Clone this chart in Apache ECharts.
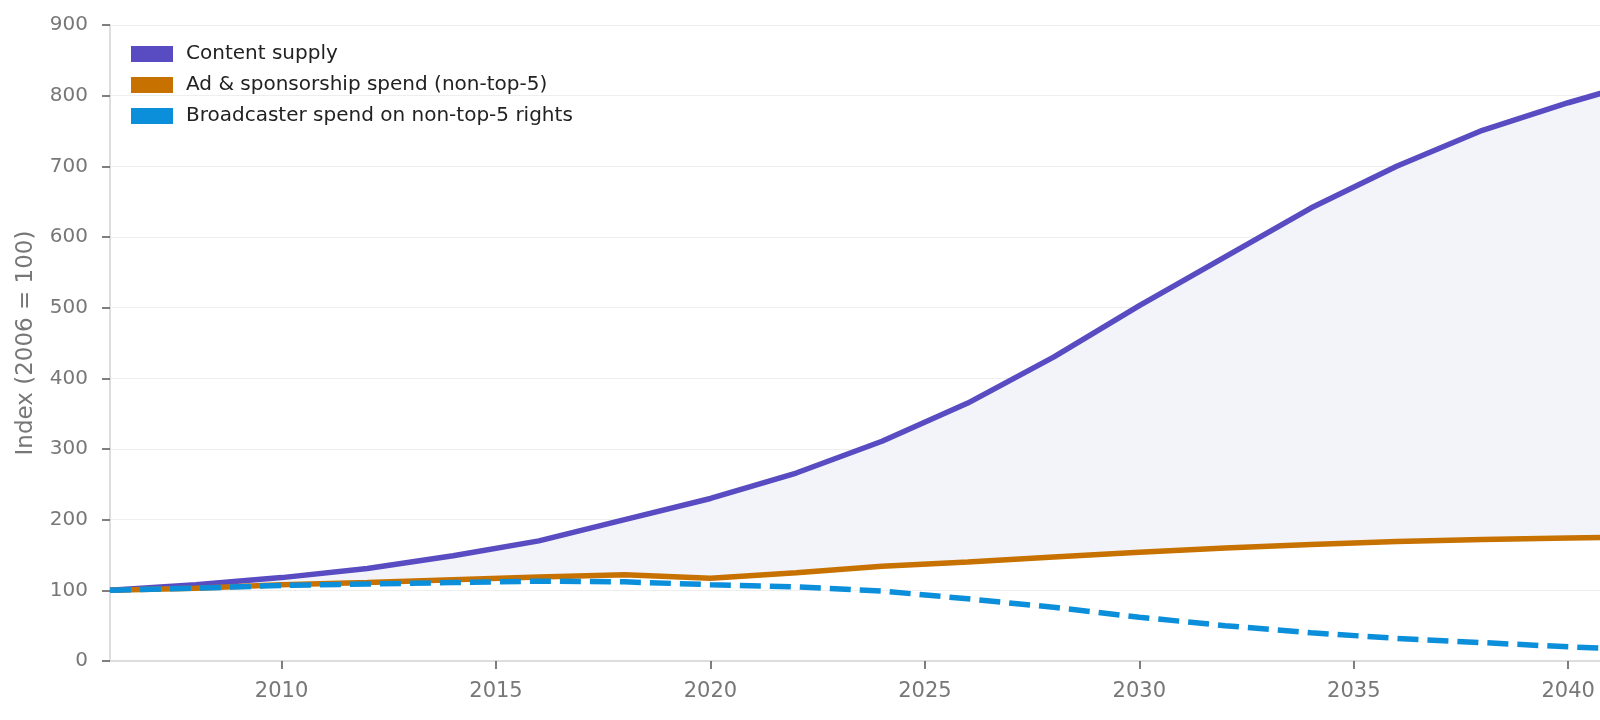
<!DOCTYPE html>
<html>
<head>
<meta charset="utf-8">
<script src="https://cdn.jsdelivr.net/npm/echarts@6/dist/echarts.min.js"></script>
<style>
html,body{margin:0;padding:0;background:#fff;overflow:hidden;width:1600px;height:720px;}
#chart{width:1700px;height:720px;}
</style>
</head>
<body>
<div id="chart"></div>
<script>
const years = [2006,2008,2010,2012,2014,2016,2018,2020,2022,2024,2026,2028,2030,2032,2034,2036,2038,2040,2042];
const contentSupply = [100,108,118,131,149,170,200,230,266,311,365,430,503,572,641,700,751,790,825];
const adSponsorship = [100,103,108,111,115,119,122,117,125,134,140,147,154,160,165,169,172,174,176];
const broadcasterSpend = [100,103,107,109,111,113,112,108,105,99,88,76,62,50,40,32,26,20,15];
const xTickLabels = [2010,2015,2020,2025,2030,2035,2040];
const yTicks = [0,100,200,300,400,500,600,700,800,900];

const pairs = a => years.map((y,i)=>[y,a[i]]);

const font = 'DejaVu Sans';
const chart = echarts.init(document.getElementById('chart'), null, {renderer:'canvas'});
chart.setOption({
  animation:false,
  textStyle:{fontFamily:font},
  grid:{left:110,right:46,top:25,bottom:59,containLabel:false},
  legend:{
    show:true, orient:'vertical', left:126, top:39,
    itemWidth:42, itemHeight:16, itemGap:11,
    textStyle:{fontFamily:font,fontSize:20,color:'#222',padding:[0,0,0,8]},
    data:[
      {name:'Content supply',icon:'rect',itemStyle:{color:'#594cc2'}},
      {name:'Ad & sponsorship spend (non-top-5)',icon:'rect',itemStyle:{color:'#c77200'}},
      {name:'Broadcaster spend on non-top-5 rights',icon:'rect',itemStyle:{color:'#0b8fdb'}}
    ]
  },
  xAxis:{
    type:'value', min:2006, max:2042,
    axisLine:{lineStyle:{color:'#dddddd',width:2}},
    axisTick:{show:true,length:8,lineStyle:{color:'#555',width:1.5},customValues:xTickLabels},
    axisLabel:{fontFamily:font,fontSize:21,color:'#777',margin:20,customValues:xTickLabels,
      formatter:v=>String(v)},
    splitLine:{show:false}
  },
  yAxis:{
    type:'value', min:0, max:900, interval:100,
    name:'Index (2006 = 100)', nameLocation:'middle', nameGap:72, nameRotate:90,
    nameTextStyle:{fontFamily:font,fontSize:23,color:'#777'},
    axisLine:{show:true,lineStyle:{color:'#dddddd',width:2}},
    axisTick:{show:true,length:8,lineStyle:{color:'#555',width:1.5}},
    axisLabel:{fontFamily:font,fontSize:20,color:'#777',margin:22,
      formatter:v=> yTicks.includes(v)?String(v):''},
    splitLine:{show:true,lineStyle:{color:'#eeeeee',width:1}}
  },
  series:[
    {name:'band',type:'custom',silent:true,z:1,data:[[0]],
     renderItem:function(params, api){
       if (params.dataIndex !== 0) return null;
       const top = years.map((y,i)=>api.coord([y, contentSupply[i]]));
       const bottom = years.map((y,i)=>api.coord([y, adSponsorship[i]])).reverse();
       return {type:'polygon', shape:{points: top.concat(bottom)}, style:{fill:'#f3f4f9', stroke:null}};
     }},
    {name:'Content supply',type:'line',data:pairs(contentSupply),symbol:'none',
     lineStyle:{color:'#594cc2',width:5.5},itemStyle:{color:'#594cc2'},z:3},
    {name:'Ad & sponsorship spend (non-top-5)',type:'line',data:pairs(adSponsorship),symbol:'none',
     lineStyle:{color:'#c77200',width:5.5},itemStyle:{color:'#c77200'},z:4},
    {name:'Broadcaster spend on non-top-5 rights',type:'line',data:pairs(broadcasterSpend),symbol:'none',
     lineStyle:{color:'#0b8fdb',width:5.5,type:[21,9]},itemStyle:{color:'#0b8fdb'},z:5}
  ]
});
</script>
</body>
</html>
